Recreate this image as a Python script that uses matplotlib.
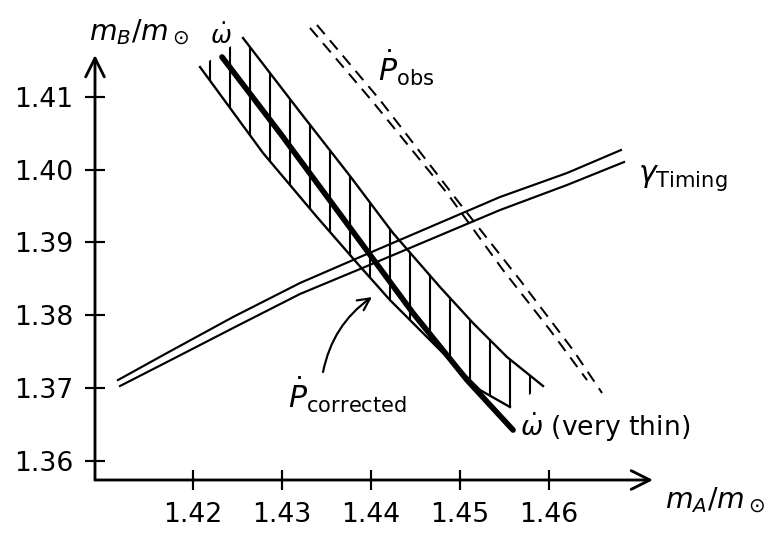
import matplotlib
matplotlib.use("Agg")
import matplotlib.pyplot as plt

plt.rcParams['font.family'] = ['DejaVu Sans']
plt.rcParams['mathtext.fontset'] = 'dejavusans'
plt.rcParams['hatch.linewidth'] = 1.25

# Axis ticks
x_ticks = [1.42, 1.43, 1.44, 1.45, 1.46]
x_tick_labels = ['1.42', '1.43', '1.44', '1.45', '1.46']
y_ticks = [1.36, 1.37, 1.38, 1.39, 1.40, 1.41]
y_tick_labels = ['1.36', '1.37', '1.38', '1.39', '1.40', '1.41']

# P-dot corrected band: upper and lower edges
band_upper_x = [1.42562, 1.43202, 1.43764, 1.44247, 1.44775, 1.45146, 1.45528, 1.45933]
band_upper_y = [1.41809, 1.40792, 1.39912, 1.39128, 1.38386, 1.37891, 1.37424, 1.37025]
band_lower_x = [1.42079, 1.42787, 1.43393, 1.43843, 1.44213, 1.44775, 1.45225, 1.45562]
band_lower_y = [1.41410, 1.40228, 1.39348, 1.38716, 1.38207, 1.37520, 1.36970, 1.36736]

# omega-dot (very thin)
omega_x = [1.42326, 1.42978, 1.43618, 1.44472, 1.45079, 1.45596]
omega_y = [1.41548, 1.40503, 1.39444, 1.38028, 1.37107, 1.36420]

# gamma timing (two edges)
gamma_upper_x = [1.41157, 1.41708, 1.42449, 1.43202, 1.43876, 1.45449, 1.46202, 1.46809]
gamma_upper_y = [1.37107, 1.37479, 1.37973, 1.38441, 1.38798, 1.39623, 1.39953, 1.40269]
gamma_lower_x = [1.41180, 1.41708, 1.42472, 1.43202, 1.43876, 1.45449, 1.46202, 1.46843]
gamma_lower_y = [1.37025, 1.37355, 1.37836, 1.38290, 1.38633, 1.39444, 1.39788, 1.40104]

# P-dot observed (two dashed edges)
pobs_left_x = [1.43315, 1.44022, 1.44854, 1.45483, 1.46011, 1.46427]
pobs_left_y = [1.41947, 1.40929, 1.39678, 1.38620, 1.37795, 1.37107]
pobs_right_x = [1.43393, 1.44101, 1.44966, 1.45674, 1.46270, 1.46596]
pobs_right_y = [1.41988, 1.40957, 1.39582, 1.38482, 1.37520, 1.36929]

W, H, DPI = 774, 535, 120
fig = plt.figure(figsize=(W / DPI, H / DPI), dpi=DPI)
ax = fig.add_axes([95 / W, 55 / H, 585 / W, 470 / H])
x0, x1 = 1.40899, 1.47472
y0, y1 = 1.35733, 1.42194
ax.set_xlim(x0, x1)
ax.set_ylim(y0, y1)
for s in ax.spines.values():
    s.set_visible(False)

ink = 'black'

# axes drawn as arrows
arrow = dict(arrowstyle='->', lw=1.7, color=ink, mutation_scale=28,
             shrinkA=0, shrinkB=0)
ax.annotate('', xy=(1.47169, y0), xytext=(x0, y0), arrowprops=arrow,
            annotation_clip=False)
ax.annotate('', xy=(x0, 1.41575), xytext=(x0, y0), arrowprops=arrow,
            annotation_clip=False)

ax.set_xticks(x_ticks)
ax.set_xticklabels(x_tick_labels)
ax.set_yticks(y_ticks)
ax.set_yticklabels(y_tick_labels)
ax.tick_params(direction='inout', length=12, width=1.3, labelsize=16,
               pad=7, color=ink)

# hatched band
band_x = band_lower_x + band_upper_x[::-1]
band_y = band_lower_y + band_upper_y[::-1]
ax.fill(band_x, band_y, facecolor='none', edgecolor=ink, hatch='|',
        linewidth=0, clip_on=False)
ax.plot(band_upper_x, band_upper_y, color=ink, lw=1.4, clip_on=False)
ax.plot(band_lower_x, band_lower_y, color=ink, lw=1.4, clip_on=False)
ax.plot(omega_x, omega_y, color=ink, lw=3.4, solid_capstyle='round',
        clip_on=False)

# gamma timing
ax.plot(gamma_upper_x, gamma_upper_y, color=ink, lw=1.3, clip_on=False)
ax.plot(gamma_lower_x, gamma_lower_y, color=ink, lw=1.3, clip_on=False)

# observed P-dot
dash = (0, (6, 4))
ax.plot(pobs_left_x, pobs_left_y, color=ink, lw=1.2, ls=dash, clip_on=False)
ax.plot(pobs_right_x, pobs_right_y, color=ink, lw=1.2, ls=dash, clip_on=False)

# labels
ax.text(1.41393, 1.41892, r'$m_B/m_\odot$', fontsize=17, ha='center',
        va='center', color=ink)
ax.text(1.47865, 1.35458, r'$m_A/m_\odot$', fontsize=17, ha='center',
        va='center', color=ink)
ax.text(1.44079, 1.41397, r'$\dot{P}_{\mathrm{obs}}$', fontsize=18,
        ha='left', va='center', color=ink)
ax.text(1.47000, 1.39884, r'$\gamma_{\mathrm{Timing}}$', fontsize=18,
        ha='left', va='center', color=ink)
ax.text(1.42315, 1.41837, r'$\dot{\omega}$', fontsize=15, ha='center',
        va='center', color=ink)
ax.text(1.45674, 1.36461, r'$\dot{\omega}$ (very thin)', fontsize=16,
        ha='left', va='center', color=ink)
ax.text(1.43067, 1.36901, r'$\dot{P}_{\mathrm{corrected}}$', fontsize=18,
        ha='left', va='center', color=ink)
ax.annotate('', xy=(1.44011, 1.38248), xytext=(1.43461, 1.37217),
            arrowprops=dict(arrowstyle='->', lw=1.3, color=ink,
                            mutation_scale=18, shrinkA=0, shrinkB=0,
                            connectionstyle='arc3,rad=-0.2'))

fig.savefig('out.png', dpi=DPI)
